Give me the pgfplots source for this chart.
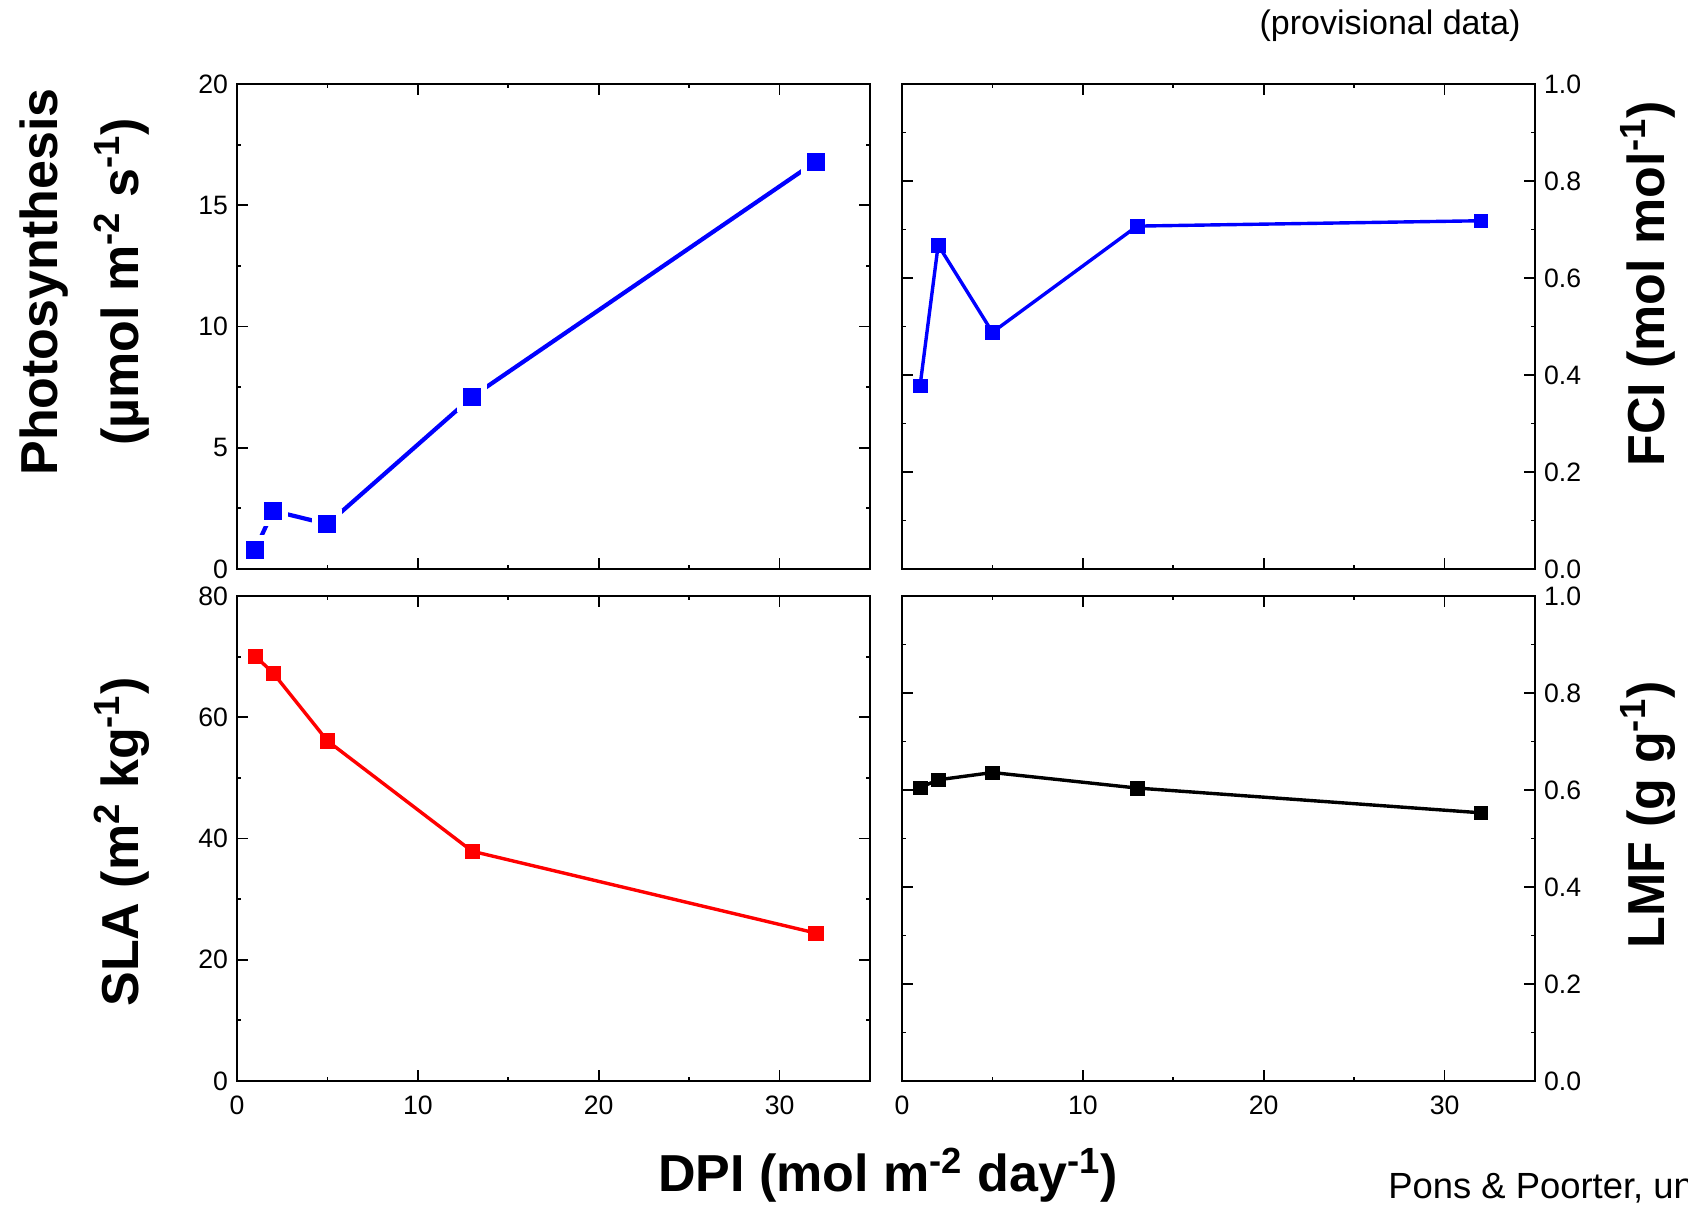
\documentclass[border=0pt]{standalone}
\usepackage{pgfplots}
\pgfplotsset{compat=1.18}
\usepackage{fontspec}
\setmainfont{Liberation Sans}

\pgfplotsset{
  panel/.style={
    scale only axis, width=316.5pt, height=242.5pt, anchor=south west,
    xmin=0, xmax=35, xtick={0,10,20,30}, minor x tick num=1,
    minor y tick num=1,
    tick align=inside,
    axis line style={line width=1pt},
    tick style={line width=0.9pt, black},
    major tick length=5.3pt, minor tick length=2pt,
    tick label style={font=\fontsize{13.3}{15}\selectfont},
    xticklabel style={yshift=-4pt},
    yticklabel style={xshift=-1pt},
    /pgf/number format/assume math mode=true,
    clip=false,
  },
  fracaxis/.style={
    ymin=0, ymax=1, ytick={0,0.2,0.4,0.6,0.8,1.0},
    yticklabel pos=right,
    yticklabel style={xshift=2pt, /pgf/number format/.cd, fixed, fixed zerofill, precision=1},
  },
}

\begin{document}
\begin{tikzpicture}
\useasboundingbox (0,0) rectangle (844pt,605pt);

% Top-left: Photosynthesis
\begin{axis}[panel, at={(118.5pt,320.5pt)},
  ymin=0, ymax=20, ytick={0,5,10,15,20}, xticklabels={}]
\addplot[blue, line width=2.1pt, mark=square*,
  mark options={fill=blue, draw=white, line width=3pt, mark size=6pt}]
  coordinates {(1,0.8) (2,2.4) (5,1.85) (13,7.1) (32,16.8)};
\end{axis}

% Top-right: FCI
\begin{axis}[panel, fracaxis, at={(451pt,320.5pt)}, xticklabels={}]
\addplot[blue, line width=1.7pt, mark=square*,
  mark options={fill=blue, draw=blue, line width=0.2pt, mark size=3.4pt}]
  coordinates {(1,0.378) (2,0.668) (5,0.488) (13,0.707) (32,0.718)};
\end{axis}

% Bottom-left: SLA
\begin{axis}[panel, at={(118.5pt,64.5pt)},
  ymin=0, ymax=80, ytick={0,20,40,60,80}]
\addplot[red, line width=1.7pt, mark=square*,
  mark options={fill=red, draw=red, line width=0.2pt, mark size=3.6pt}]
  coordinates {(1,70.1) (2,67.3) (5,56.1) (13,37.9) (32,24.4)};
\end{axis}

% Bottom-right: LMF
\begin{axis}[panel, fracaxis, at={(451pt,64.5pt)}]
\addplot[black, line width=1.7pt, mark=square*,
  mark options={fill=black, draw=black, line width=0.2pt, mark size=3.4pt}]
  coordinates {(1,0.605) (2,0.621) (5,0.636) (13,0.604) (32,0.553)};
\end{axis}

% Labels
\begin{scope}[every node/.style={inner sep=0pt, font=\bfseries\fontsize{26}{30}\selectfont}]
\node[rotate=90, anchor=base] at (28.5pt,464pt) {Photosynthesis};
\node[rotate=90, anchor=base] at (69pt,464pt) {(µmol m\textsuperscript{-2} s\textsuperscript{-1})};
\node[rotate=90, anchor=base] at (69pt,184pt) {SLA (m\textsuperscript{2} kg\textsuperscript{-1})};
\node[rotate=90, anchor=base] at (832pt,463pt) {FCI (mol mol\textsuperscript{-1})};
\node[rotate=90, anchor=base] at (832pt,197.5pt) {LMF (g g\textsuperscript{-1})};
\node[anchor=base] at (444pt,9pt) {DPI (mol m\textsuperscript{-2} day\textsuperscript{-1})};
\end{scope}
\node[anchor=base, inner sep=0pt, font=\fontsize{17}{20}\selectfont] at (695pt,587.5pt) {(provisional data)};
\node[anchor=base west, inner sep=0pt, font=\fontsize{18.2}{21}\selectfont] at (694pt,5.5pt) {Pons \& Poorter, unpublished};
\end{tikzpicture}
\end{document}
